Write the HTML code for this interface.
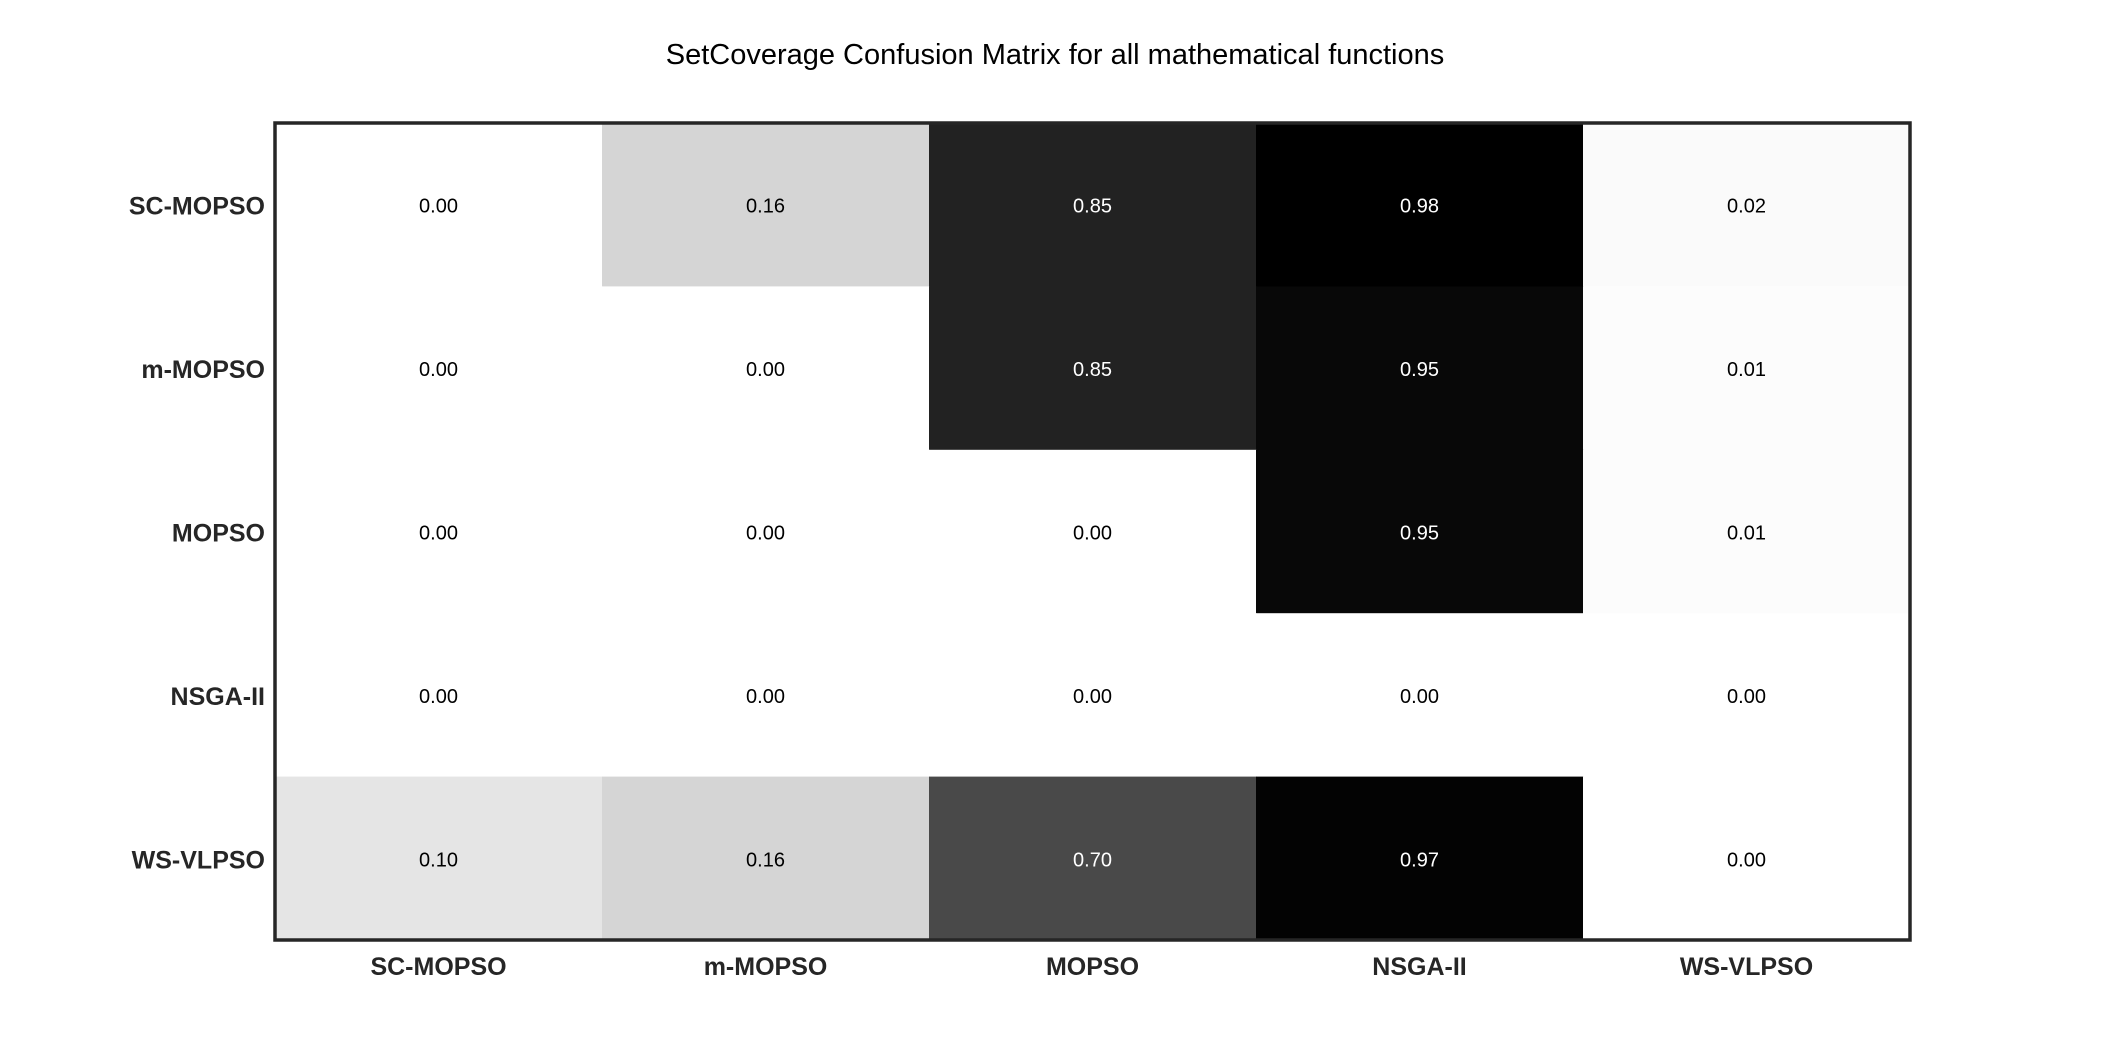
<!DOCTYPE html>
<html><head><meta charset="utf-8"><style>
html,body{margin:0;padding:0;background:#fff;}
svg{display:block;}
</style></head><body>
<svg id="chart" width="2109" height="1055" xmlns="http://www.w3.org/2000/svg" font-family="'Liberation Sans', Arial, sans-serif">
<rect width="2109" height="1055" fill="#fff"/>
<text x="1055" y="64" text-anchor="middle" font-size="29" fill="#000">SetCoverage Confusion Matrix for all mathematical functions</text>
<g id="cells"></g>
<g id="labels"></g>
<rect x="275" y="123" width="1635" height="817" fill="none" stroke="#262626" stroke-width="3.5"/>
</svg>
<script>
const rowLabels = ["SC-MOPSO","m-MOPSO","MOPSO","NSGA-II","WS-VLPSO"];
const colLabels = ["SC-MOPSO","m-MOPSO","MOPSO","NSGA-II","WS-VLPSO"];
const row0 = [0.00,0.16,0.85,0.98,0.02];
const row1 = [0.00,0.00,0.85,0.95,0.01];
const row2 = [0.00,0.00,0.00,0.95,0.01];
const row3 = [0.00,0.00,0.00,0.00,0.00];
const row4 = [0.10,0.16,0.70,0.97,0.00];
const values = [row0,row1,row2,row3,row4];

const NS = "http://www.w3.org/2000/svg";
const plotLeft = 275, plotRight = 1910, plotTop = 123, plotBottom = 940;
const cw = (plotRight-plotLeft)/colLabels.length, ch = (plotBottom-plotTop)/rowLabels.length;
let vmax = 0;
values.forEach(r=>r.forEach(v=>{if(v>vmax)vmax=v;}));
function xPos(j){return plotLeft + j*cw;}
function yPos(i){return plotTop + i*ch;}
function color(v){const g=Math.round(255*(1-v/vmax));return `rgb(${g},${g},${g})`;}
const cells = document.getElementById('cells');
const labels = document.getElementById('labels');
values.forEach((row,i)=>{
  row.forEach((v,j)=>{
    const r=document.createElementNS(NS,'rect');
    r.setAttribute('x',xPos(j));r.setAttribute('y',yPos(i));
    r.setAttribute('width',cw+0.5);r.setAttribute('height',ch+0.5);
    r.setAttribute('fill',color(v));
    
    
    cells.appendChild(r);
    const t=document.createElementNS(NS,'text');
    t.setAttribute('x',xPos(j)+cw/2);t.setAttribute('y',yPos(i)+ch/2+8);
    t.setAttribute('text-anchor','middle');t.setAttribute('font-size','20');
    t.setAttribute('fill',v/vmax>0.5?'#fff':'#000');
    t.textContent=v.toFixed(2);
    
    
    cells.appendChild(t);
  });
});
rowLabels.forEach((l,i)=>{
  const t=document.createElementNS(NS,'text');
  t.setAttribute('x',plotLeft-10);t.setAttribute('y',yPos(i)+ch/2+10);
  t.setAttribute('text-anchor','end');t.setAttribute('font-size','25');
  t.setAttribute('font-weight','bold');t.setAttribute('fill','#262626');
  t.textContent=l;
  
  
  labels.appendChild(t);
});
colLabels.forEach((l,j)=>{
  const t=document.createElementNS(NS,'text');
  t.setAttribute('x',xPos(j)+cw/2);t.setAttribute('y',plotBottom+35);
  t.setAttribute('text-anchor','middle');t.setAttribute('font-size','25');
  t.setAttribute('font-weight','bold');t.setAttribute('fill','#262626');
  t.textContent=l;
  
  
  labels.appendChild(t);
});
</script>
</body></html>
